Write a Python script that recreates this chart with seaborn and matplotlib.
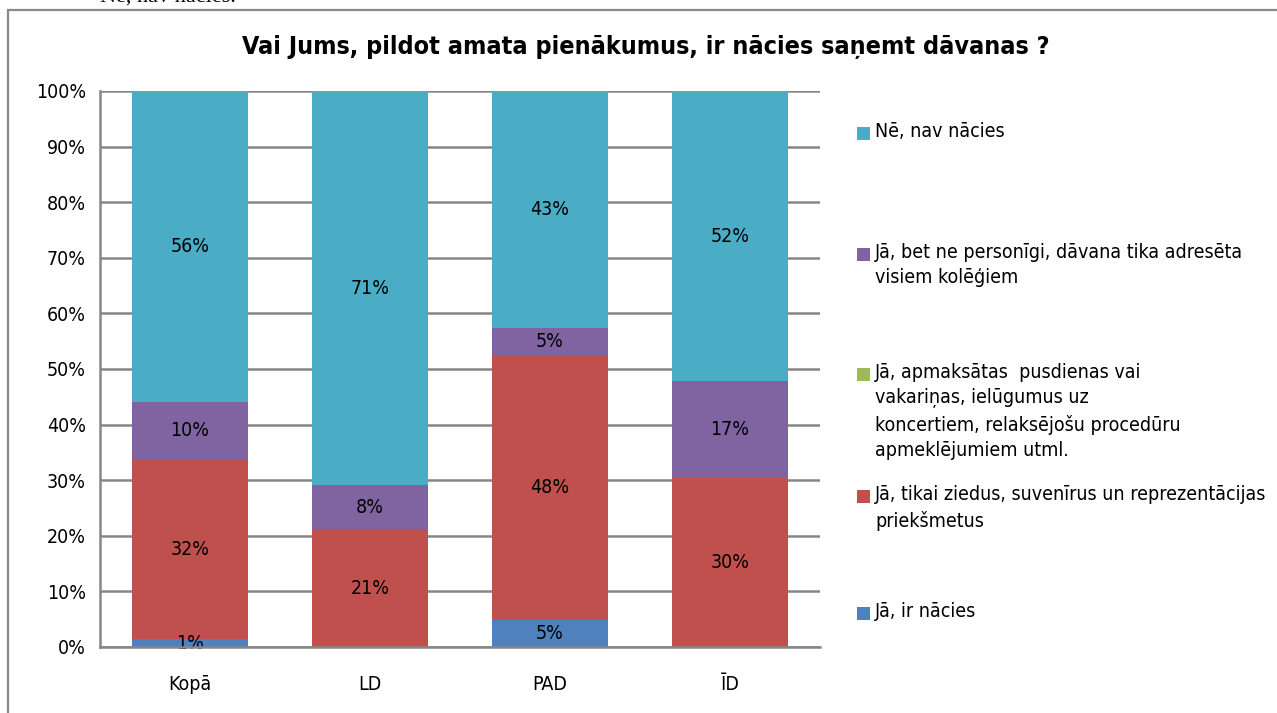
import numpy as np
import pandas as pd
import seaborn as sns
import matplotlib.pyplot as plt
from matplotlib.patches import Rectangle

# data (percent of respondents)
categories = ['Kopā', 'LD', 'PAD', 'ĪD']
series_names = [
    'Jā, ir nācies',
    'Jā, tikai ziedus, suvenīrus un reprezentācijas\npriekšmetus',
    'Jā, apmaksātas  pusdienas vai\nvakariņas, ielūgumus uz\nkoncertiem, relaksējošu procedūru\napmeklējumiem utml.',
    'Jā, bet ne personīgi, dāvana tika adresēta\nvisiem kolēģiem',
    'Nē, nav nācies',
]
ja_ir = [1.4, 0.0, 4.9, 0.0]
ja_ziedi = [32.4, 21.0, 47.6, 30.4]
ja_pusdienas = [0.0, 0.0, 0.0, 0.0]
ja_kolegiem = [10.2, 8.1, 4.9, 17.4]
ne_nav = [56.0, 70.9, 42.6, 52.2]
series_colors = ['#4F81BD', '#C0504D', '#9BBB59', '#8064A2', '#4BACC6']

title = 'Vai Jums, pildot amata pienākumus, ir nācies saņemt dāvanas ?'

values = np.array([ja_ir, ja_ziedi, ja_pusdienas, ja_kolegiem, ne_nav])
cum = values.cumsum(axis=0)

sns.set_style('white')
plt.rcParams['font.family'] = ['DejaVu Sans']
plt.rcParams['font.stretch'] = 'condensed'
plt.rcParams['text.color'] = 'black'
plt.rcParams['xtick.color'] = 'black'
plt.rcParams['ytick.color'] = 'black'

fig = plt.figure(figsize=(12.77, 7.13), dpi=100)
ax = fig.add_axes([100 / 1277, 1 - 647 / 713, 720 / 1277, 556 / 713])

grid_col = '#868686'
ax.set_axisbelow(True)
ax.yaxis.grid(True, color=grid_col, linewidth=1.8)

# stacked bars: draw cumulative totals from the top series down
for i in range(len(series_names) - 1, -1, -1):
    df = pd.DataFrame({'cat': categories, 'val': cum[i]})
    sns.barplot(data=df, x='cat', y='val', order=categories, color=series_colors[i],
                saturation=1, width=0.64, errorbar=None, linewidth=0, ax=ax, zorder=2)

# data labels
for i in range(len(series_names)):
    for j in range(len(categories)):
        v = values[i, j]
        if v <= 0:
            continue
        ax.text(j, cum[i, j] - v / 2, f'{v:.0f}%', ha='center', va='center',
                fontsize=14, color='black', zorder=3)

ax.set_xlim(-0.5, 3.5)
ax.set_ylim(0, 100)
ax.set_yticks(np.arange(0, 101, 10))
ax.set_yticklabels([f'{t}%' for t in range(0, 101, 10)], fontsize=14)
ax.tick_params(axis='y', length=0, pad=10)
ax.tick_params(axis='x', length=0, pad=20, labelsize=14)
ax.set_xlabel('')
ax.set_ylabel('')
for s in ['top', 'right']:
    ax.spines[s].set_visible(False)
for s in ['left', 'bottom']:
    ax.spines[s].set_color(grid_col)
    ax.spines[s].set_linewidth(1.8)
    ax.spines[s].set_zorder(4)

fig.text(646 / 1277, 1 - 47 / 713, title, ha='center', va='center',
         fontsize=18, fontweight='bold')

# legend, placed like the original one
legend_rows = [134, 255, 375, 497, 614]
order = [4, 3, 2, 1, 0]
for y, i in zip(legend_rows, order):
    fig.patches.append(Rectangle((857 / 1277, 1 - (y + 6) / 713), 13 / 1277, 13 / 713,
                                 transform=fig.transFigure, facecolor=series_colors[i],
                                 edgecolor='none'))
    fig.text(875 / 1277, 1 - (y - 12) / 713, series_names[i], ha='left', va='top',
             fontsize=14, linespacing=1.42)

# chart frame and the cut-off line of document text above it
fig.patches.append(Rectangle((8 / 1277, -0.1), 1.2, 1 - 10 / 713 + 0.1,
                             transform=fig.transFigure, facecolor='none',
                             edgecolor='#898989', linewidth=1.6))
fig.text(100 / 1277, 1 - 2 / 713, 'Nē, nav nācies.', ha='left', va='baseline',
         fontsize=16, family=['Liberation Serif'], fontstretch='normal')

fig.savefig('out.png', dpi=100)
